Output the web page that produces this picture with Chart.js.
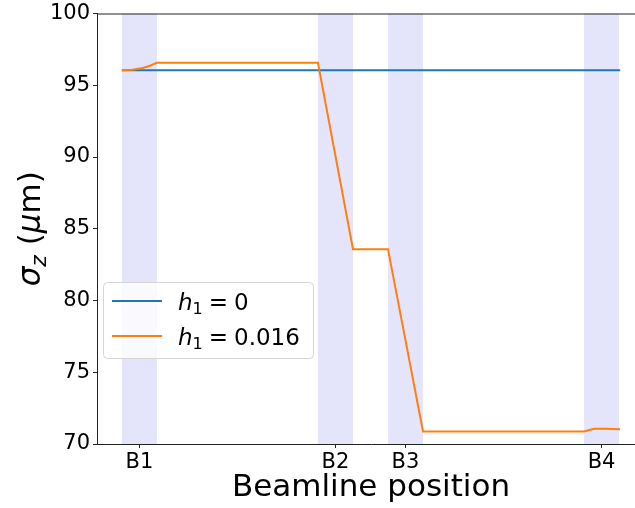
<!doctype html><html lang="en">
<head>
<meta charset="utf-8">
<title>Bunch length along the beamline</title>
<script src="https://cdn.jsdelivr.net/npm/chart.js@4"></script>
<style>
html,body{margin:0;padding:0;background:#fff;overflow:hidden}
#wrap{width:660px;height:508px}
</style>
</head>
<body>
<div id="wrap"><canvas id="c" width="660" height="508"></canvas></div>
<script>
// dipoles along the line, each one unit long
const magnets=['B1','B2','B3','B4'];
const magStart=[0,5.6,7.6,13.2];
const magLen=1.0;
// sigma_z for h1 = 0 (unchanged)
const posA=[0,14.23];
const sigA=[96.05,96.05];
// sigma_z for h1 = 0.016
const posB=[0,0.3,0.6,0.8,1.0,5.6,6.6,7.6,8.6,13.2,13.35,13.5,13.8,14.23];
const sigB=[96.05,96.08,96.2,96.36,96.57,96.57,83.58,83.58,70.87,70.87,70.98,71.06,71.06,71.03];
const yTicks=[70,75,80,85,90,95,100];
const h1Vals=['0','0.016'];

const FONT='"DejaVu Sans"';
const C_BLUE='#1f77b4',C_ORANGE='#ff7f0e';
const pts=(xs,ys)=>xs.map((x,i)=>({x,y:ys[i]}));

// shaded magnet regions under the curves
const bands={id:'bands',beforeDatasetsDraw(chart){
  const {ctx,chartArea:a,scales:{x}}=chart;
  ctx.save();ctx.fillStyle='rgb(228,228,251)';
  magStart.forEach(s=>{
    const l=x.getPixelForValue(s),r=x.getPixelForValue(s+magLen);
    ctx.fillRect(l,a.top,r-l,a.bottom-a.top);
  });
  ctx.restore();
}};

// h_1 = value, drawn mathtext style
function hLabel(ctx,x,y,v){
  ctx.font='italic 23px '+FONT;ctx.fillText('h',x,y);
  let w=ctx.measureText('h').width;
  ctx.font='16px '+FONT;ctx.fillText('1',x+w,y+4);
  w+=ctx.measureText('1').width+6;
  ctx.font='23px '+FONT;ctx.fillText('=',x+w,y);
  w+=ctx.measureText('=').width+6;
  ctx.fillText(v,x+w,y);
}

const extras={id:'extras',afterDraw(chart){
  const {ctx,chartArea:a}=chart;
  ctx.save();
  // top spine
  ctx.strokeStyle='#222';ctx.lineWidth=1;
  ctx.beginPath();ctx.moveTo(a.left,a.top+0.5);ctx.lineTo(a.right,a.top+0.5);ctx.stroke();

  // legend box
  const bx=103.5,by=282.5,bw=210,bh=76,r=4;
  ctx.beginPath();
  ctx.moveTo(bx+r,by);ctx.lineTo(bx+bw-r,by);ctx.arcTo(bx+bw,by,bx+bw,by+r,r);
  ctx.lineTo(bx+bw,by+bh-r);ctx.arcTo(bx+bw,by+bh,bx+bw-r,by+bh,r);
  ctx.lineTo(bx+r,by+bh);ctx.arcTo(bx,by+bh,bx,by+bh-r,r);
  ctx.lineTo(bx,by+r);ctx.arcTo(bx,by,bx+r,by,r);ctx.closePath();
  ctx.fillStyle='rgba(255,255,255,0.8)';ctx.fill();
  ctx.strokeStyle='#d5d5d5';ctx.stroke();
  const rows=[[C_BLUE,301,310],[C_ORANGE,336,344.5]];
  rows.forEach(([col,ly,base],i)=>{
    ctx.strokeStyle=col;ctx.lineWidth=2;
    ctx.beginPath();ctx.moveTo(112,ly);ctx.lineTo(162,ly);ctx.stroke();
    ctx.fillStyle='#000';ctx.textBaseline='alphabetic';ctx.textAlign='left';
    hLabel(ctx,178,base,h1Vals[i]);
  });

  // axis titles
  ctx.fillStyle='#000';ctx.textAlign='center';ctx.textBaseline='alphabetic';
  ctx.font='31px '+FONT;
  ctx.fillText('Beamline position',(a.left+a.right)/2,496);

  ctx.translate(40,(a.top+a.bottom)/2);ctx.rotate(-Math.PI/2);
  const parts=[['σ','italic 31px '],['z','italic 22px ',6],[' (','31px '],['μ','italic 31px '],['m)','31px ']];
  let tot=0;
  parts.forEach(p=>{ctx.font=p[1]+FONT;tot+=ctx.measureText(p[0]).width;});
  let px=-tot/2;ctx.textAlign='left';
  parts.forEach(p=>{ctx.font=p[1]+FONT;ctx.fillText(p[0],px,p[2]||0);px+=ctx.measureText(p[0]).width;});
  ctx.restore();
}};

new Chart(document.getElementById('c'),{
  type:'line',
  data:{datasets:[
    {label:'h1 = 0',data:pts(posA,sigA),borderColor:C_BLUE,borderWidth:2,pointRadius:0,order:1},
    {label:'h1 = 0.016',data:pts(posB,sigB),borderColor:C_ORANGE,borderWidth:2,pointRadius:0,order:0}
  ]},
  options:{
    responsive:false,animation:false,devicePixelRatio:1,
    layout:{padding:{top:13,right:15,left:0,bottom:0}},
    plugins:{legend:{display:false},tooltip:{enabled:false}},
    scales:{
      x:{type:'linear',min:-0.71,max:14.94,
        afterBuildTicks:s=>{s.ticks=magStart.map(v=>({value:v+magLen/2}));},
        afterFit:s=>{s.height=64;},
        grid:{drawOnChartArea:false,drawTicks:true,tickLength:4,tickColor:'#222'},
        border:{display:true,color:'#222',width:1},
        ticks:{color:'#000',font:{family:FONT,size:21,lineHeight:1},padding:4,maxRotation:0,
          callback:(v,i)=>magnets[i]}},
      y:{min:70,max:100,
        afterBuildTicks:s=>{s.ticks=yTicks.map(v=>({value:v}));},
        afterFit:s=>{s.width=97;},
        grid:{drawOnChartArea:false,drawTicks:true,tickLength:4,tickColor:'#222'},
        border:{display:true,color:'#222',width:1},
        ticks:{color:'#000',font:{family:FONT,size:21,lineHeight:1},padding:3}}
    }
  },
  plugins:[bands,extras]
});
</script>
</body></html>
